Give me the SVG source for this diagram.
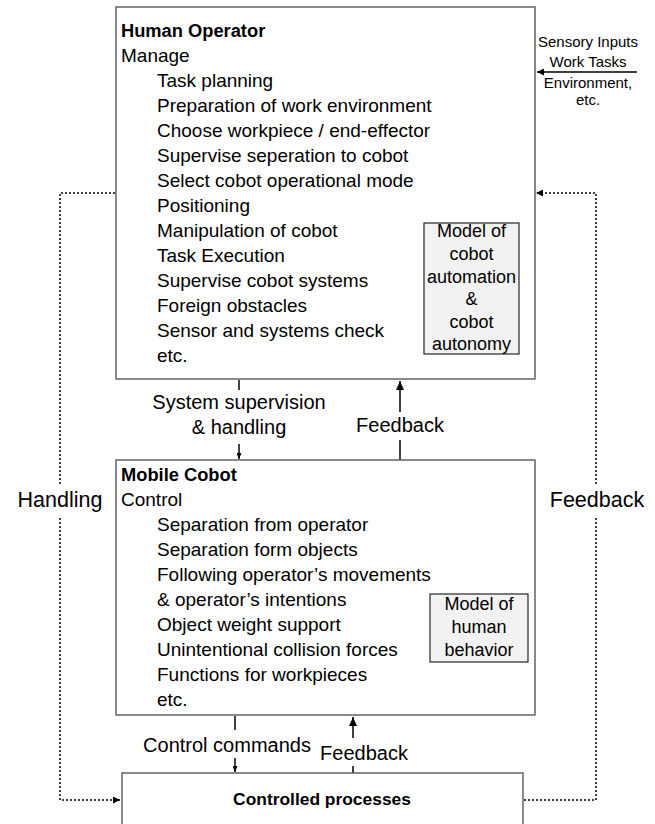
<svg xmlns="http://www.w3.org/2000/svg" width="655" height="824" viewBox="0 0 655 824">
<style>
text{font-family:"Liberation Sans",Arial,sans-serif;fill:#000}
.box{fill:#fff;stroke:#595959;stroke-width:1.4}
.model{fill:#f2f2f2;stroke:#262626;stroke-width:1.2}
.t{font-size:19px}
.b{font-size:18.3px;font-weight:bold}
.m{font-size:18px;text-anchor:middle}
.s{font-size:15px;text-anchor:middle}
.lab{font-size:20px;text-anchor:middle}
.big{font-size:21.5px;text-anchor:middle}
.ln{stroke:#000;stroke-width:1.5;fill:none}
.dot{stroke:#000;stroke-width:1.5;fill:none;stroke-dasharray:2 2}
</style>
<defs>
<marker id="ah" viewBox="0 0 10 10" refX="10" refY="5" markerWidth="7" markerHeight="7" markerUnits="userSpaceOnUse" orient="auto">
<path d="M0,0 L10,5 L0,10 z" fill="#000"/>
</marker>
<marker id="ahs" viewBox="0 0 10 10" refX="10" refY="5" markerWidth="6" markerHeight="5" markerUnits="userSpaceOnUse" orient="auto" preserveAspectRatio="none">
<path d="M0,0 L10,5 L0,10 z" fill="#000"/>
</marker>
<marker id="ahb" viewBox="0 0 10 10" refX="10" refY="5" markerWidth="9" markerHeight="8" markerUnits="userSpaceOnUse" orient="auto" preserveAspectRatio="none">
<path d="M0,0 L10,5 L0,10 z" fill="#000"/>
</marker>
</defs>
<g id="connectors">
<line class="ln" x1="637" y1="72" x2="537" y2="72" marker-end="url(#ah)"/>
<line class="ln" x1="239" y1="380" x2="239" y2="390"/>
<line class="ln" x1="239" y1="444" x2="239" y2="459" marker-end="url(#ahs)"/>
<line class="ln" x1="400" y1="461" x2="400" y2="440"/>
<line class="ln" x1="400" y1="412" x2="400" y2="381" marker-end="url(#ahb)"/>
<line class="ln" x1="235" y1="716" x2="235" y2="730"/>
<line class="ln" x1="235" y1="758" x2="235" y2="772" marker-end="url(#ahs)"/>
<line class="ln" x1="353" y1="773" x2="353" y2="766"/>
<line class="ln" x1="353" y1="738" x2="353" y2="717" marker-end="url(#ahb)"/>
<path class="dot" d="M115,193 H60 V484"/>
<path class="dot" d="M60,518 V800 H120" marker-end="url(#ah)"/>
<path class="dot" d="M524,800 H596 V518"/>
<path class="dot" d="M596,484 V193 H536" marker-end="url(#ah)"/>
<text class="lab" x="239" y="409">System supervision</text>
<text class="lab" x="239" y="434">&amp; handling</text>
<text class="lab" x="400" y="432">Feedback</text>
<text class="big" x="60" y="507">Handling</text>
<text class="big" x="597" y="507">Feedback</text>
<text class="lab" x="227" y="752">Control commands</text>
<text class="lab" x="364" y="760">Feedback</text>
<text class="s" x="588" y="47">Sensory Inputs</text>
<text class="s" x="588" y="67">Work Tasks</text>
<text class="s" x="588" y="88">Environment,</text>
<text class="s" x="588" y="105">etc.</text>
</g>
<g id="human-operator">
<rect class="box" x="116" y="7" width="419" height="372"/>
<text class="b" x="121" y="37">Human Operator</text>
<text class="t" x="121" y="62">Manage</text>
<text class="t" x="157" y="87">Task planning</text>
<text class="t" x="157" y="112">Preparation of work environment</text>
<text class="t" x="157" y="137">Choose workpiece / end-effector</text>
<text class="t" x="157" y="162">Supervise seperation to cobot</text>
<text class="t" x="157" y="187">Select cobot operational mode</text>
<text class="t" x="157" y="212">Positioning</text>
<text class="t" x="157" y="237">Manipulation of cobot</text>
<text class="t" x="157" y="262">Task Execution</text>
<text class="t" x="157" y="287">Supervise cobot systems</text>
<text class="t" x="157" y="312">Foreign obstacles</text>
<text class="t" x="157" y="337">Sensor and systems check</text>
<text class="t" x="157" y="362">etc.</text>
</g>
<g id="model-cobot-automation">
<rect class="model" x="424" y="223" width="95" height="131"/>
<text class="m" x="471.5" y="237">Model of</text>
<text class="m" x="471.5" y="260">cobot</text>
<text class="m" x="471.5" y="282.5">automation</text>
<text class="m" x="471.5" y="305">&amp;</text>
<text class="m" x="471.5" y="327.5">cobot</text>
<text class="m" x="471.5" y="350">autonomy</text>
</g>
<g id="mobile-cobot">
<rect class="box" x="116" y="460" width="419" height="255"/>
<text class="b" x="121" y="481">Mobile Cobot</text>
<text class="t" x="121" y="506">Control</text>
<text class="t" x="157" y="531">Separation from operator</text>
<text class="t" x="157" y="556">Separation form objects</text>
<text class="t" x="157" y="581">Following operator’s movements</text>
<text class="t" x="157" y="606">&amp; operator’s intentions</text>
<text class="t" x="157" y="631">Object weight support</text>
<text class="t" x="157" y="656">Unintentional collision forces</text>
<text class="t" x="157" y="681">Functions for workpieces</text>
<text class="t" x="157" y="706">etc.</text>
</g>
<g id="model-human-behavior">
<rect class="model" x="430" y="594" width="98" height="68"/>
<text class="m" x="479" y="610">Model of</text>
<text class="m" x="479" y="633">human</text>
<text class="m" x="479" y="656">behavior</text>
</g>
<g id="controlled-processes">
<rect class="box" x="122" y="773" width="401" height="60"/>
<text x="322" y="805" font-size="17.4" font-weight="bold" text-anchor="middle">Controlled processes</text>
</g>
</svg>
